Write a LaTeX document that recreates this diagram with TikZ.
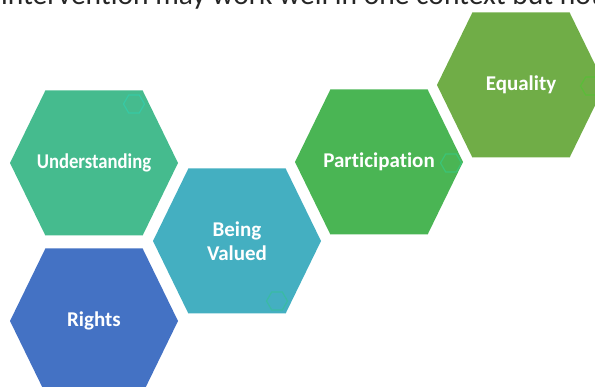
\documentclass[tikz,border=0pt]{standalone}
\usepackage{fontspec}
\setmainfont{Carlito}[Ligatures=NoCommon]
\usepackage{tikz}
\usetikzlibrary
  {
    shapes.symbols,           % hexagon cells (signal shape)
    shapes.geometric,         % small regular hexagons
  }

\definecolor{understandingcol}{HTML}{45BB8E}
\definecolor{valuedcol}{HTML}{44AFC1}
\definecolor{rightscol}{HTML}{4472C4}
\definecolor{participationcol}{HTML}{4AB554}
\definecolor{equalitycol}{HTML}{70AD47}

\begin{document}
\begin{tikzpicture}
    [
      x=1pt,
      y=-1pt,
      cell/.style=
        {
          shape=signal,
          signal to=east and west,
          signal pointer angle=128,
          minimum width=168pt,
          minimum height=145pt,
          inner xsep=-45pt,
          inner ysep=0pt,
          text=white,
          font=\bfseries\fontsize{21}{24}\selectfont,
          align=center,
        },
      badge/.style=
        {
          regular polygon,
          regular polygon sides=6,
          minimum size=21pt,
          inner sep=0pt,
          line width=1.2pt,
        },
    ]
    \useasboundingbox (0,0) rectangle (595,387);
    \clip (0,0) rectangle (595,387);
    \node[anchor=base west, inner sep=0pt, text=black!85,
          font=\fontsize{29.5}{35}\selectfont] (heading) at (1,5)
          {intervention may work well in one context but not};
    \node[cell, fill=understandingcol] (understanding) at ( 94,163) {\scalebox{0.89}[1]{Understanding}};
    \node[cell, fill=valuedcol]        (being valued)  at (237,241) {Being\\Valued};
    \node[cell, fill=rightscol]        (rights)        at ( 94,321) {Rights};
    \node[cell, fill=participationcol] (participation) at (379,162) {Participation};
    \node[cell, fill=equalitycol]      (equality)      at (521, 85) {Equality};
    % faint outlined hexagons
    \node[badge, draw=understandingcol!80!cyan]  (understanding badge) at (134,104) {};
    \node[badge, draw=valuedcol!85!green]        (valued badge)        at (277,301) {};
    \node[badge, draw=participationcol!80!cyan]  (participation badge) at (451,163) {};
    \node[badge, draw=equalitycol!80!green]      (equality badge)      at (591, 86) {};
  \end{tikzpicture}
\end{document}
